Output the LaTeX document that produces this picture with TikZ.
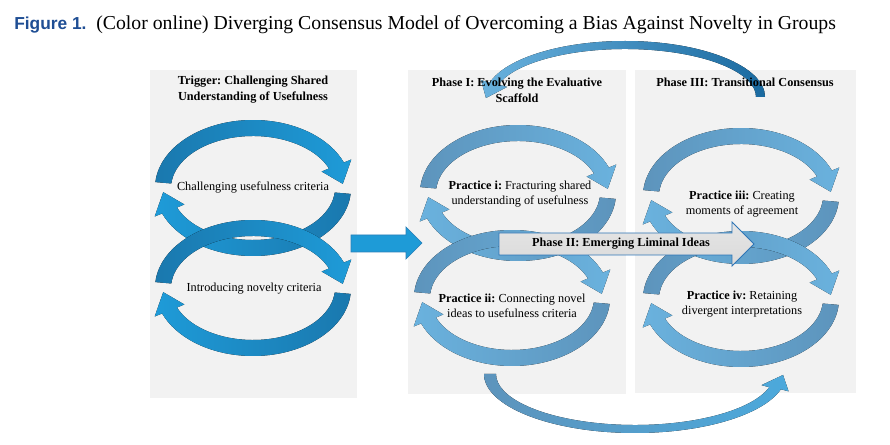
\documentclass[tikz,border=0pt]{standalone}
\usepackage{fontspec}
\setmainfont{Liberation Serif}
\newfontfamily\capsans{Liberation Sans}
\frenchspacing
\definecolor{panelgray}{HTML}{F2F2F2}
\definecolor{tdark}{HTML}{1A78AE}
\definecolor{tbright}{HTML}{1E9BD8}
\definecolor{pdark}{HTML}{5D94BC}
\definecolor{pbright}{HTML}{6AB2DE}
\definecolor{figblue}{HTML}{1F4E94}
\definecolor{arrowblue}{HTML}{1E9BD7}
\definecolor{arrowedge}{HTML}{2A7FB8}
\definecolor{phaseedge}{HTML}{2E75B6}
\definecolor{phasefill}{HTML}{DADADA}
\definecolor{deepblue}{HTML}{1570AA}
\definecolor{topdark}{HTML}{1A6AA0}
\newcommand{\cyclepair}[3]{%
  \fill[left color=#2, right color=#3]
    ([shift={(#1)}]185:98 and 68) arc[start angle=185,end angle=338,x radius=98,y radius=68]
    -- ([shift={(#1)}]338:106 and 76) -- ([shift={(#1)}]356:90 and 60)
    -- ([shift={(#1)}]338:74 and 44) -- ([shift={(#1)}]338:82 and 52)
    arc[start angle=338,end angle=185,x radius=82,y radius=52] -- cycle;
  \fill[left color=#3, right color=#2]
    ([shift={(#1)}]5:98 and 68) arc[start angle=5,end angle=158,x radius=98,y radius=68]
    -- ([shift={(#1)}]158:106 and 76) -- ([shift={(#1)}]176:90 and 60)
    -- ([shift={(#1)}]158:74 and 44) -- ([shift={(#1)}]158:82 and 52)
    arc[start angle=158,end angle=5,x radius=82,y radius=52] -- cycle;
}
\tikzset{
  panel/.style={fill=panelgray},
  txt/.style={font=\fontsize{9.2}{11.3}\selectfont, align=center, inner sep=0pt},
  ttl/.style={txt, font=\fontsize{9.2}{12}\selectfont\bfseries},
  bigarrow/.style={fill=arrowblue, draw=arrowedge, line width=0.5pt},
  phasearrow/.style={top color=phasefill!70!white, bottom color=phasefill, draw=phaseedge, line width=0.6pt}
}
\begin{document}
\begin{tikzpicture}[x=0.75pt, y=-0.75pt]
\useasboundingbox (0,0) rectangle (890,445);
\fill[white] (0,0) rectangle (890,445);

% caption
\node[anchor=base west, inner sep=0pt, font=\fontsize{14.8}{16}\selectfont] (caption) at (14,30)
  {{\capsans\fontsize{13}{16}\selectfont\bfseries\color{figblue}Figure 1.}\enspace(Color online) Diverging Consensus Model of Overcoming a Bias Against Novelty in Groups};

% panels
\fill[panel] (150,70) rectangle (357,398);
\fill[panel] (408,70) rectangle (626,394);
\fill[panel] (635,70) rectangle (856,393);

% cycle centres
\coordinate (t1) at (253,188);
\coordinate (t2) at (253,288);
\coordinate (c1) at (518,193);
\coordinate (c2) at (512,298);
\coordinate (c3) at (741,196);
\coordinate (c4) at (741,299);

\cyclepair{t1}{tdark}{tbright}
\cyclepair{t2}{tdark}{tbright}
\cyclepair{c1}{pdark}{pbright}
\cyclepair{c2}{pdark}{pbright}
\cyclepair{c3}{pdark}{pbright}
\cyclepair{c4}{pdark}{pbright}

% top curved arrow (Phase III back to Phase I)
\coordinate (tc) at (625,97);
\coordinate (toptip) at (486,98);
\fill[left color=pbright, middle color=tbright, right color=topdark]
  ([shift={(tc)}]0:140 and 56) arc[start angle=360,end angle=195,x radius=140,y radius=56]
  -- ([shift={(tc)}]195:149 and 65) -- (toptip) -- ([shift={(tc)}]195:122 and 39)
  -- ([shift={(tc)}]195:131 and 48) arc[start angle=195,end angle=360,x radius=131,y radius=48] -- cycle;

% bottom curved arrow (Practice ii to Practice iv)
\coordinate (bc) at (635,374);
\coordinate (bottip) at (783,375);
\fill[left color=pdark, middle color=deepblue, right color=pbright!60!tbright]
  ([shift={(bc)}]180:151 and 59) arc[start angle=180,end angle=15,x radius=151,y radius=59]
  -- ([shift={(bc)}]15:159 and 67) -- (bottip) -- ([shift={(bc)}]15:131 and 43)
  -- ([shift={(bc)}]15:139 and 51) arc[start angle=15,end angle=180,x radius=139,y radius=51] -- cycle;

% big arrow trigger -> phase I
\draw[bigarrow] (351,235) -- (406,235) -- (406,227) -- (422,243) -- (406,259) -- (406,252) -- (351,252) -- cycle;

% phase II arrow
\draw[phasearrow] (499,233) -- (732,233) -- (732,222) -- (754,244) -- (732,266) -- (732,255) -- (499,255) -- cycle;
\node[ttl] (phase2) at (621,244) {Phase II: Emerging Liminal Ideas};

% titles
\node[ttl] (trigger) at (253,90) {Trigger: Challenging Shared\\Understanding of Usefulness};
\node[ttl] (phase1) at (517,90) {Phase I: Evolving the Evaluative\\Scaffold};
\node[ttl] (phase3) at (745,82) {Phase III: Transitional Consensus};

% cycle texts
\node[txt] (chal) at (253,188) {Challenging usefulness criteria};
\node[txt] (intro) at (254,289) {Introducing novelty criteria};
\node[txt] (pi) at (520,194.5) {\textbf{Practice i:} Fracturing shared\\understanding of usefulness};
\node[txt] (pii) at (512,305.5) {\textbf{Practice ii:} Connecting novel\\ideas to usefulness criteria};
\node[txt] (piii) at (742,204.5) {\textbf{Practice iii:} Creating\\moments of agreement};
\node[txt] (piv) at (742,304.5) {\textbf{Practice iv:} Retaining\\divergent interpretations};
\end{tikzpicture}
\end{document}
